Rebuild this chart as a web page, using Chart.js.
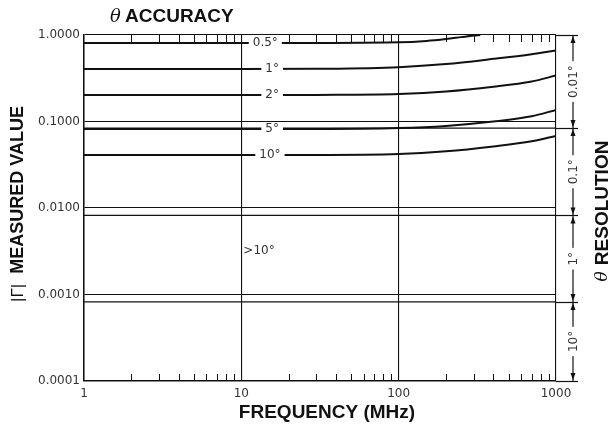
<!DOCTYPE html>
<html>
<head>
<meta charset="utf-8">
<script src="https://cdn.jsdelivr.net/npm/chart.js@4.4.0/dist/chart.umd.min.js"></script>
<style>
  html, body { margin: 0; padding: 0; background: #fff; }
  #wrap { position: relative; width: 610px; height: 426px; }
</style>
</head>
<body>
<div id="wrap"><canvas id="chart" width="610" height="426"></canvas></div>
<script>
// axis ticks
const freqTicks = [1, 10, 100, 1000];
const freqTickLabels = ['1', '10', '100', '1000'];
const gammaTicks = [0.0001, 0.001, 0.01, 0.1, 1];
const gammaTickLabels = ['0.0001', '0.0010', '0.0100', '0.1000', '1.0000'];

// theta accuracy curves, |Γ| vs frequency (MHz)
const accuracyLabels = ['0.5°', '1°', '2°', '5°', '10°'];
const freq = [1, 10, 30, 100, 200, 400, 700, 1000];
const acc05Freq = [1, 10, 30, 100, 150, 200, 250, 300, 330];
const acc05 = [0.808, 0.808, 0.810, 0.822, 0.852, 0.897, 0.945, 0.985, 1.0];
const acc1 = [0.404, 0.404, 0.407, 0.425, 0.462, 0.530, 0.600, 0.662];
const acc2 = [0.202, 0.202, 0.203, 0.208, 0.222, 0.252, 0.290, 0.340];
const acc5 = [0.082, 0.082, 0.082, 0.084, 0.089, 0.100, 0.115, 0.136];
const acc10 = [0.041, 0.041, 0.041, 0.042, 0.0452, 0.0515, 0.059, 0.068];
const outsideLabel = '>10°';
const outsideValue = 0.0032;

// theta resolution bands: lower edges (upper edges sit on the decade lines)
const resolutionBounds = [0.084, 0.0082, 0.00082];
const resolutionLabels = ['0.01°', '0.1°', '1°', '10°'];

const INK = '#111';
const LABEL_FONT = '12px "DejaVu Sans"';

function series(xs, ys) {
    return xs.map((f, i) => ({ x: f, y: ys[i] }));
}

const curveStyle = {
    borderColor: INK,
    borderWidth: 2,
    pointRadius: 0,
    fill: false,
    cubicInterpolationMode: 'monotone'
};

const curves = [
    series(acc05Freq, acc05),
    series(freq, acc1),
    series(freq, acc2),
    series(freq, acc5),
    series(freq, acc10)
];

const datasets = curves.map(data => ({ ...curveStyle, data }));
resolutionBounds.forEach(v => {
    datasets.push({
        borderColor: INK,
        borderWidth: 1.3,
        pointRadius: 0,
        fill: false,
        data: [{ x: 1, y: v }, { x: 1000, y: v }]
    });
});

function strokeLine(ctx, x1, y1, x2, y2) {
    ctx.beginPath();
    ctx.moveTo(x1, y1);
    ctx.lineTo(x2, y2);
    ctx.stroke();
}

function arrow(ctx, x, y, dir) {
    // dir = -1 points up, 1 points down
    ctx.beginPath();
    ctx.moveTo(x, y);
    ctx.lineTo(x - 2.5, y - dir * 7);
    ctx.lineTo(x + 2.5, y - dir * 7);
    ctx.closePath();
    ctx.fill();
}

const decorations = {
    id: 'decorations',
    afterDatasetsDraw(chart) {
        const { ctx, chartArea: a, scales: { x, y } } = chart;
        ctx.save();
        ctx.strokeStyle = INK;
        ctx.fillStyle = INK;

        // inward minor ticks on top and bottom edges
        ctx.lineWidth = 1;
        for (let d = 1; d < 1000; d *= 10) {
            for (let m = 2; m <= 9; m++) {
                const px = Math.round(x.getPixelForValue(d * m)) + 0.5;
                strokeLine(ctx, px, a.top, px, a.top + 7);
                strokeLine(ctx, px, a.bottom, px, a.bottom - 7);
            }
        }

        // curve labels, cut into the lines
        const labelAt = [14.2, 15.7, 15.7, 15.7, 15.2];
        ctx.font = LABEL_FONT;
        ctx.textAlign = 'center';
        ctx.textBaseline = 'middle';
        accuracyLabels.forEach((txt, i) => {
            const px = x.getPixelForValue(labelAt[i]);
            const py = y.getPixelForValue(curves[i][1].y);
            const w = ctx.measureText(txt).width + 8;
            ctx.fillStyle = '#fff';
            ctx.fillRect(px - w / 2, py - 4, w, 8);
            ctx.fillStyle = '#333';
            ctx.fillText(txt, px, py);
        });
        ctx.textAlign = 'left';
        ctx.fillText(outsideLabel, x.getPixelForValue(10) + 2, y.getPixelForValue(outsideValue));

        // theta resolution scale on the right
        const edges = [1, ...resolutionBounds, 0.0001];
        const sx = a.right + 17;
        ctx.fillStyle = INK;
        ctx.lineWidth = 1.2;
        edges.forEach(v => {
            const py = Math.round(y.getPixelForValue(v)) + 0.5;
            strokeLine(ctx, a.right, py, a.right + 22, py);
        });
        strokeLine(ctx, sx, y.getPixelForValue(1), sx, y.getPixelForValue(0.0001));
        for (let i = 0; i < resolutionLabels.length; i++) {
            const y1 = y.getPixelForValue(edges[i]);
            const y2 = y.getPixelForValue(edges[i + 1]);
            arrow(ctx, sx, y1 + 1, -1);
            arrow(ctx, sx, y2 - 1, 1);
            const cy = (y1 + y2) / 2;
            ctx.save();
            ctx.translate(sx, cy);
            ctx.rotate(-Math.PI / 2);
            ctx.font = LABEL_FONT;
            ctx.textAlign = 'center';
            ctx.textBaseline = 'middle';
            const w = ctx.measureText(resolutionLabels[i]).width + 8;
            ctx.fillStyle = '#fff';
            ctx.fillRect(-w / 2, -5, w, 10);
            ctx.fillStyle = '#333';
            ctx.fillText(resolutionLabels[i], 0, 1);
            ctx.restore();
        }
        ctx.restore();
    },
    afterDraw(chart) {
        const { ctx } = chart;
        ctx.save();
        ctx.fillStyle = INK;
        ctx.textBaseline = 'middle';

        // top title
        ctx.textAlign = 'left';
        ctx.font = 'italic 18px "DejaVu Serif"';
        ctx.fillText('θ', 110, 17);
        ctx.font = 'bold 19px "Liberation Sans"';
        ctx.fillText('ACCURACY', 125, 17);

        // x title
        ctx.textAlign = 'center';
        ctx.fillText('FREQUENCY (MHz)', 327, 413);

        // y title
        ctx.save();
        ctx.translate(18, 204);
        ctx.rotate(-Math.PI / 2);
        ctx.font = '17px "Liberation Sans"';
        const g = '|Γ|';
        const gw = ctx.measureText(g).width;
        ctx.font = 'bold 18px "Liberation Sans"';
        const t = 'MEASURED VALUE';
        const tw = ctx.measureText(t).width;
        const total = gw + 10 + tw;
        ctx.textAlign = 'left';
        ctx.font = '17px "Liberation Sans"';
        ctx.fillText(g, -total / 2, 0);
        ctx.font = 'bold 18px "Liberation Sans"';
        ctx.fillText(t, -total / 2 + gw + 10, 0);
        ctx.restore();

        // right title
        ctx.save();
        ctx.translate(603, 211);
        ctx.rotate(-Math.PI / 2);
        ctx.font = 'bold 19px "Liberation Sans"';
        const r = 'RESOLUTION';
        const rw = ctx.measureText(r).width;
        ctx.textAlign = 'left';
        ctx.font = 'italic 17px "DejaVu Serif"';
        const thw = ctx.measureText('θ').width;
        const rtotal = thw + 6 + rw;
        ctx.fillText('θ', -rtotal / 2, 0);
        ctx.font = 'bold 19px "Liberation Sans"';
        ctx.fillText(r, -rtotal / 2 + thw + 6, 0);
        ctx.restore();

        ctx.restore();
    }
};

new Chart(document.getElementById('chart').getContext('2d'), {
    type: 'line',
    data: { datasets },
    options: {
        responsive: false,
        animation: false,
        layout: { padding: { left: 0, top: 35, right: 54, bottom: 0 } },
        plugins: {
            legend: { display: false },
            tooltip: { enabled: false }
        },
        scales: {
            x: {
                type: 'logarithmic',
                min: 1,
                max: 1000,
                afterBuildTicks: s => { s.ticks = freqTicks.map(v => ({ value: v })); },
                afterFit: s => { s.height = 45; },
                ticks: {
                    callback: (v, i) => freqTickLabels[i],
                    font: { family: 'DejaVu Sans', size: 12 },
                    color: '#333',
                    padding: 6,
                    maxRotation: 0,
                    autoSkip: false
                },
                grid: { color: INK, lineWidth: 1.1, drawTicks: false },
                border: { display: true, color: INK, width: 1.5 }
            },
            y: {
                type: 'logarithmic',
                min: 0.0001,
                max: 1,
                afterBuildTicks: s => { s.ticks = gammaTicks.map(v => ({ value: v })); },
                afterFit: s => { s.width = 84; },
                ticks: {
                    callback: (v, i) => gammaTickLabels[i],
                    font: { family: 'DejaVu Sans', size: 12 },
                    color: '#333',
                    padding: 4,
                    autoSkip: false
                },
                grid: { color: INK, lineWidth: 1.1, drawTicks: false },
                border: { display: true, color: INK, width: 1.5 }
            }
        }
    },
    plugins: [decorations]
});
</script>
</body>
</html>
